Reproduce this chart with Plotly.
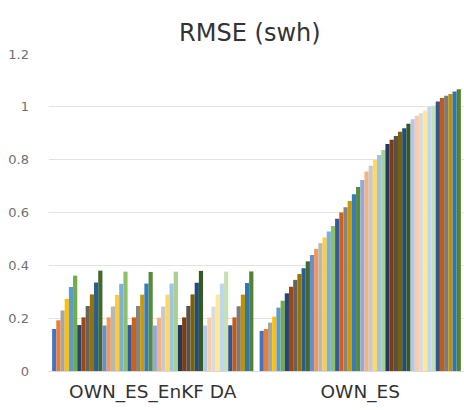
import plotly.graph_objects as go

categories = ["OWN_ES_EnKF DA", "OWN_ES"]

# 48 series; values for [OWN_ES_EnKF DA, OWN_ES]
enkf_values = [
    0.159, 0.192, 0.229, 0.273, 0.318, 0.361,
    0.174, 0.203, 0.246, 0.290, 0.335, 0.380,
    0.172, 0.203, 0.244, 0.288, 0.330, 0.376,
    0.174, 0.203, 0.246, 0.289, 0.331, 0.375,
    0.172, 0.202, 0.244, 0.289, 0.331, 0.376,
    0.174, 0.203, 0.246, 0.290, 0.334, 0.379,
    0.172, 0.202, 0.244, 0.289, 0.331, 0.376,
    0.173, 0.203, 0.245, 0.289, 0.333, 0.377,
]
es_values = [
    0.152, 0.159, 0.183, 0.206, 0.240, 0.266,
    0.294, 0.319, 0.345, 0.367, 0.389, 0.415,
    0.439, 0.462, 0.484, 0.505, 0.528, 0.549,
    0.576, 0.600, 0.620, 0.644, 0.669, 0.697,
    0.723, 0.755, 0.777, 0.800, 0.818, 0.837,
    0.859, 0.875, 0.890, 0.906, 0.919, 0.936,
    0.953, 0.966, 0.976, 0.986, 0.999, 1.004,
    1.020, 1.033, 1.042, 1.049, 1.058, 1.067,
]
series_names = [f"Series{i+1}" for i in range(48)]

colors = [
    "#4472C4", "#ED7D31", "#A5A5A5", "#FFC000", "#5B9BD5", "#70AD47",
    "#264478", "#9E480E", "#636363", "#997300", "#255E91", "#43682B",
    "#698ED0", "#F1975A", "#B7B7B7", "#FFCD33", "#7CAFDD", "#8CC168",
    "#335AA1", "#D26012", "#848484", "#CC9A00", "#327DC2", "#5A8A39",
    "#8FAADC", "#F4B183", "#C9C9C9", "#FFD966", "#9DC3E6", "#A9D18E",
    "#203864", "#843C0C", "#525252", "#7F6000", "#1F4E79", "#385723",
    "#B4C7E7", "#F8CBAD", "#DBDBDB", "#FFE699", "#BDD7EE", "#C5E0B4",
    "#2F5597", "#C55A11", "#7B7B7B", "#BF9000", "#2E75B6", "#548235",
]

fig = go.Figure()
for i, name in enumerate(series_names):
    fig.add_trace(go.Bar(
        x=categories,
        y=[enkf_values[i], es_values[i]],
        name=name,
        marker=dict(color=colors[i], line=dict(width=0)),
    ))

fig.update_layout(
    width=464, height=410,
    margin=dict(l=49, r=0, t=54, b=39),
    paper_bgcolor="white", plot_bgcolor="white",
    barmode="group", bargap=0.03, bargroupgap=0,
    showlegend=False,
    font=dict(family="DejaVu Sans", color="#595959"),
    title=dict(text="RMSE (swh)", x=0.484, xref="paper", xanchor="center",
               y=1 - 33 / 410, yref="container", yanchor="middle",
               font=dict(size=24, color="#333333")),
)
fig.update_xaxes(showgrid=False, showline=True, linecolor="#D9D9D9",
                 ticks="", tickfont=dict(size=18.5, color="#333333"),
                 ticklabelstandoff=4)
fig.update_yaxes(range=[0, 1.2], showgrid=True, gridcolor="#E2E2E2",
                 zeroline=False, showline=False, ticks="",
                 tickfont=dict(size=13, color="#707070"), ticklabelstandoff=19,
                 tickvals=[0, 0.2, 0.4, 0.6, 0.8, 1, 1.2],
                 ticktext=["0", "0.2", "0.4", "0.6", "0.8", "1", "1.2"])

fig.write_html(
    "out.html",
    config={"displayModeBar": False},
    post_script="document.body.style.margin='0';document.body.style.overflow='hidden';",
)
